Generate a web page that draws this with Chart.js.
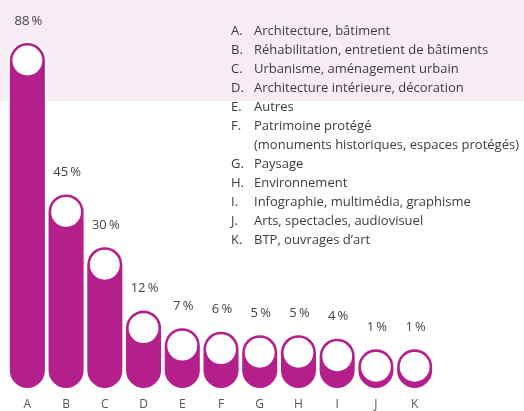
<!DOCTYPE html>
<html><head><meta charset="utf-8">
<script src="https://cdn.jsdelivr.net/npm/chart.js@4"></script>
<style>html,body{margin:0;padding:0;background:#fff;}#wrap{width:524px;height:411px;position:relative;}</style>
</head><body><div id="wrap"><canvas id="c" width="524" height="411"></canvas></div>
<script>
const categories = ['A','B','C','D','E','F','G','H','I','J','K'];
const values = [88,45,30,12,7,6,5,5,4,1,1];
const valueLabels = ['88\u2009%','45\u2009%','30\u2009%','12\u2009%','7\u2009%','6\u2009%','5\u2009%','5\u2009%','4\u2009%','1\u2009%','1\u2009%'];
const legendNames = [
  ['Architecture, bâtiment'],
  ['Réhabilitation, entretient de bâtiments'],
  ['Urbanisme, aménagement urbain'],
  ['Architecture intérieure, décoration'],
  ['Autres'],
  ['Patrimoine protégé','(monuments historiques, espaces protégés)'],
  ['Paysage'],
  ['Environnement'],
  ['Infographie, multimédia, graphisme'],
  ['Arts, spectacles, audiovisuel'],
  ['BTP, ouvrages d\u2019art']
];
const BASE = -10; // extra length below zero representing the rounded cap
const MAGENTA = '#b41f8b';
const FONT = '"Open Sans", "DejaVu Sans", sans-serif';

function pill(ctx, x, top, bottom, half) {
  const r = half;
  ctx.beginPath();
  ctx.moveTo(x - half, top + r);
  ctx.arc(x, top + r, r, Math.PI, 0);
  ctx.lineTo(x + half, bottom - r);
  ctx.arc(x, bottom - r, r, 0, Math.PI);
  ctx.closePath();
}
function ends(el) {
  return [Math.min(el.y, el.base), Math.max(el.y, el.base)];
}

const decor = {
  id: 'decor',
  beforeDraw(chart) {
    const ctx = chart.ctx;
    ctx.save();
    ctx.fillStyle = '#f7ebf4';
    ctx.fillRect(0, 0, chart.width, 101);
    ctx.restore();
  },
  beforeDatasetsDraw(chart) {
    const ctx = chart.ctx;
    const meta = chart.getDatasetMeta(0);
    ctx.save();
    ctx.fillStyle = '#ffffff';
    meta.data.forEach(el => {
      const [top, bottom] = ends(el);
      const half = el.width / 2 + 2;
      pill(ctx, el.x, top - 2, bottom + 2, half);
      ctx.fill();
    });
    ctx.restore();
  },
  afterDatasetsDraw(chart) {
    const ctx = chart.ctx;
    const meta = chart.getDatasetMeta(0);
    const xs = chart.scales.x;
    ctx.save();
    meta.data.forEach((el, i) => {
      const [top, bottom] = ends(el);
      const half = el.width / 2;
      ctx.fillStyle = '#ffffff';
      ctx.beginPath();
      ctx.arc(el.x, top + half, half - 2.6, 0, Math.PI * 2);
      ctx.fill();
      ctx.fillStyle = '#444444';
      ctx.font = '13px ' + FONT;
      ctx.textAlign = 'center';
      ctx.textBaseline = 'middle';
      ctx.fillText(valueLabels[i], el.x + 1, top - 22);
      // category label
      ctx.fillStyle = '#555555';
      ctx.font = '12px ' + FONT;
      ctx.fillText(categories[i], xs.getPixelForValue(i), 405);
    });
    // legend list
    ctx.font = '13px ' + FONT;
    ctx.textAlign = 'left';
    ctx.textBaseline = 'middle';
    ctx.fillStyle = '#3c3c3c';
    let line = 0;
    categories.forEach((c, i) => {
      legendNames[i].forEach((t, k) => {
        const y = 31.5 + line * 19;
        if (k === 0) ctx.fillText(c + '.', 231, y);
        ctx.fillText(t, 254, y);
        line++;
      });
    });
    ctx.restore();
  }
};

new Chart(document.getElementById('c'), {
  type: 'bar',
  data: {
    labels: categories,
    datasets: [{
      data: values.map(v => [BASE, v]),
      backgroundColor: MAGENTA,
      borderRadius: 18,
      borderSkipped: false,
      barPercentage: 0.905,
      categoryPercentage: 1
    }]
  },
  options: {
    responsive: false,
    animation: false,
    layout: { padding: { left: 8, right: 90, top: 43, bottom: 23 } },
    plugins: { legend: { display: false }, tooltip: { enabled: false } },
    scales: {
      x: { display: false },
      y: { display: false, min: BASE, max: 88 }
    }
  },
  plugins: [decor]
});
</script></body></html>
